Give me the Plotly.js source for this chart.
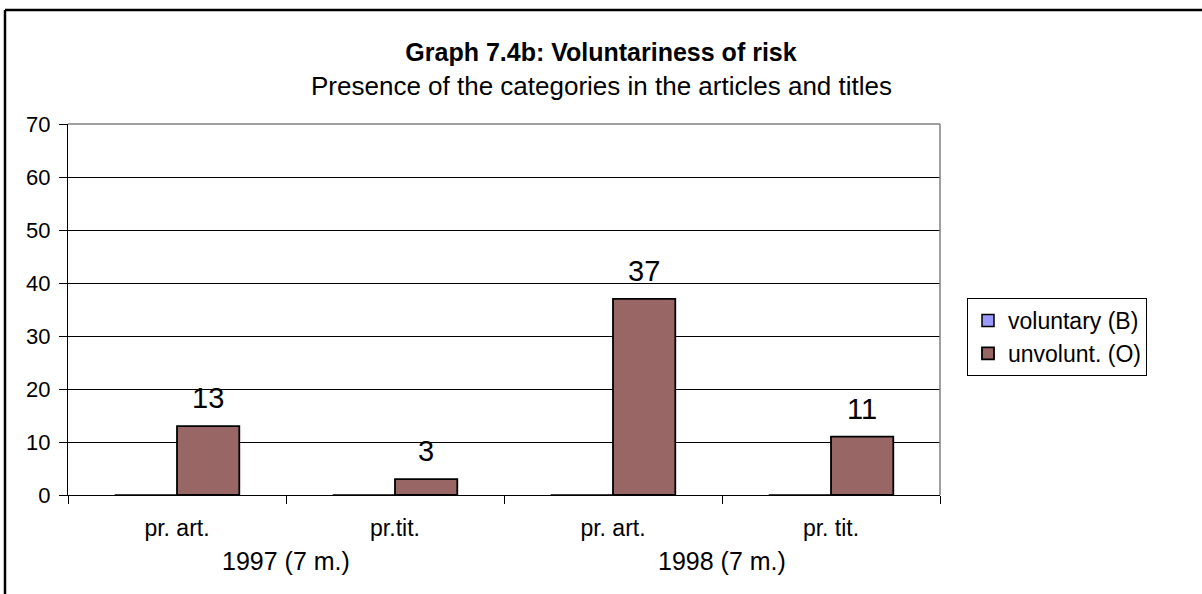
<!DOCTYPE html>
<html><head><meta charset="utf-8">
<script src="https://cdn.plot.ly/plotly-3.0.1.min.js"></script>
<style>html,body{margin:0;padding:0;background:#fff}#chart{width:1202px;height:594px}</style>
</head><body><div id="chart"></div>
<script>
const subLabels = ["pr. art.", "pr.tit.", "pr. art.", "pr. tit."];
const groupLabels = ["1997 (7 m.)", "1997 (7 m.)", "1998 (7 m.)", "1998 (7 m.)"];
const voluntary = [0, 0, 0, 0];
const unvoluntary = [13, 3, 37, 11];
const seriesNames = ["voluntary (B)", "unvolunt. (O)"];
const titleText = "Graph 7.4b: Voluntariness of risk";
const subtitleText = "Presence of the categories in the articles and titles";
const yTicks = [0, 10, 20, 30, 40, 50, 60, 70];

const FONT = "'Liberation Sans', Arial, sans-serif";
const W = 1202, H = 594;
const M = {l: 68, r: 262, t: 124, b: 99};
const pw = W - M.l - M.r, ph = H - M.t - M.b;
const px2x = p => (p - M.l) / pw;
const py2y = p => (H - M.b - p) / ph;

const idx = subLabels.map((_, i) => i);
const bargap = 1.5 / 3.5;
const barOffset = (1 - bargap) / 4;

const traces = [
  {type: 'bar', x: idx, y: voluntary, name: seriesNames[0],
   marker: {color: '#9999FF', line: {color: '#000', width: 1.5}}, hoverinfo: 'y'},
  {type: 'bar', x: idx, y: unvoluntary, name: seriesNames[1],
   marker: {color: '#996666', line: {color: '#000', width: 1.8}}, hoverinfo: 'y'}
];

const annotations = [];
unvoluntary.forEach((v, i) => {
  annotations.push({x: i + barOffset, y: v, xref: 'x', yref: 'y', text: String(v),
    showarrow: false, yanchor: 'bottom', yshift: 10, font: {family: FONT, size: 29, color: '#000'}});
});
const groups = [...new Set(groupLabels)];
groups.forEach(g => {
  const ids = idx.filter(i => groupLabels[i] === g);
  const mid = ids.reduce((a, b) => a + b, 0) / ids.length;
  annotations.push({x: mid, y: py2y(561), xref: 'x', yref: 'paper', text: g, showarrow: false,
    yanchor: 'middle', font: {family: FONT, size: 25, color: '#000'}});
});
annotations.push({x: px2x(W / 2), y: py2y(86), xref: 'paper', yref: 'paper', text: subtitleText,
  showarrow: false, yanchor: 'middle', font: {family: FONT, size: 26, color: '#000'}});

const boundaries = idx.map(i => i - 0.5).concat([idx.length - 0.5]);

const layout = {
  width: W, height: H,
  margin: M,
  paper_bgcolor: '#fff', plot_bgcolor: '#fff',
  font: {family: FONT, color: '#000'},
  title: {text: '<b>' + titleText + '</b>', x: 0.5, xref: 'container', y: 1 - 52 / H, yanchor: 'middle',
    font: {family: FONT, size: 25, color: '#000'}},
  barmode: 'group', bargap: bargap, bargroupgap: 0,
  showlegend: true,
  legend: {x: px2x(967), xanchor: 'left', y: py2y(298), yanchor: 'top',
    bordercolor: '#000', borderwidth: 1, bgcolor: '#fff',
    font: {family: FONT, size: 23, color: '#000'}, tracegroupgap: 0, itemwidth: 30},
  xaxis: {range: [-0.5, idx.length - 0.5], tickvals: idx, ticktext: subLabels, ticks: '',
    showline: true, linecolor: '#000', linewidth: 1, showgrid: false, zeroline: false,
    ticklabelstandoff: 12, tickfont: {family: FONT, size: 23, color: '#000'},
    minor: {tickvals: boundaries, ticks: 'outside', ticklen: 8, tickcolor: '#000', tickwidth: 1, showgrid: false},
    fixedrange: true},
  yaxis: {range: [0, 70], tickvals: yTicks, ticks: 'outside', ticklen: 8, tickcolor: '#000',
    showline: true, linecolor: '#000', linewidth: 1, showgrid: true, gridcolor: '#000', gridwidth: 1,
    zeroline: false, ticklabelstandoff: 4, tickfont: {family: FONT, size: 22, color: '#000'}, fixedrange: true},
  annotations: annotations,
  shapes: [
    {type: 'line', xref: 'paper', yref: 'paper', x0: 0, x1: 1, y0: 1, y1: 1, line: {color: '#808080', width: 1.5}},
    {type: 'line', xref: 'paper', yref: 'paper', x0: 1, x1: 1, y0: 0, y1: 1, line: {color: '#808080', width: 1.5}},
    {type: 'line', xref: 'paper', yref: 'paper', x0: px2x(5), x1: px2x(W + 5), y0: py2y(10), y1: py2y(10), line: {color: '#000', width: 2.5}},
    {type: 'line', xref: 'paper', yref: 'paper', x0: px2x(5), x1: px2x(5), y0: py2y(10), y1: py2y(H + 5), line: {color: '#000', width: 2.5}}
  ]
};

Plotly.newPlot('chart', traces, layout, {displayModeBar: false, staticPlot: true});
</script>
</body></html>
